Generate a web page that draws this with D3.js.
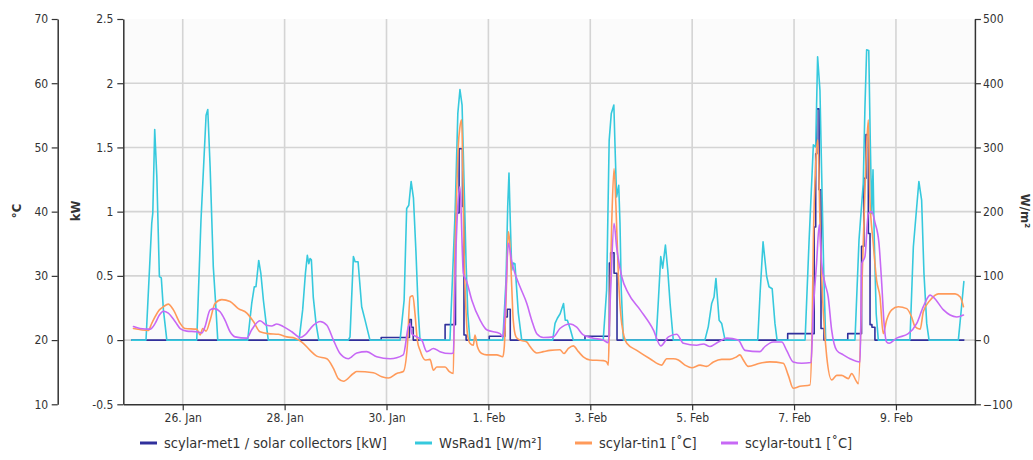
<!DOCTYPE html>
<html>
<head>
<meta charset="utf-8">
<script src="https://cdn.jsdelivr.net/npm/d3@7"></script>
<style>
  html, body { margin: 0; padding: 0; background: #ffffff; }
  svg { display: block; font-family: "DejaVu Sans Condensed", "DejaVu Sans", sans-serif; }
</style>
</head>
<body>
<svg id="chart" width="1033" height="460"></svg>
<script>
// Time axis: every sample is [hours since 25 Jan 00:00, value]
const startDate = new Date(2021, 0, 25);
const timeDomainHours = [-4, 397.2];
const xTickDates = ["2021-01-26", "2021-01-28", "2021-01-30", "2021-02-01",
                    "2021-02-03", "2021-02-05", "2021-02-07", "2021-02-09"];

const kwTicks = [-0.5, 0, 0.5, 1, 1.5, 2, 2.5];
const degTicks = [10, 20, 30, 40, 50, 60, 70];
const radTicks = [-100, 0, 100, 200, 300, 400, 500];

const seriesNames = ["scylar-met1 / solar collectors [kW]", "WsRad1 [W/m²]", "scylar-tin1 [˚C]", "scylar-tout1 [˚C]"];

// solar collector power, kW (stepped)
const collectorKW = [
  [0, 0], [117.5, 0.02], [130.8, 0.16], [131.7, 0.10], [132.6, 0],
  [147.6, 0.12], [152.5, 0.99], [154.2, 1.49], [155.8, 1.04], [156.5, 0.04], [157.5, 0],
  [168.4, 0.03], [175.8, 0.18], [176.9, 0.24], [178.3, 0],
  [213.5, 0.03], [225.0, 0.60], [225.6, 0.68], [227.2, 0.52], [228.6, 0],
  [309.0, 0.05], [321.5, 0.88], [322.2, 1.45], [322.7, 1.80], [323.8, 1.17], [324.7, 0.09], [326.1, 0],
  [337.3, 0.05], [343.8, 0.73], [344.9, 1.26], [345.9, 1.60], [347.0, 0.83], [347.8, 0.12], [348.7, 0.10], [350.1, 0],
  [392.0, 0]
];

// global radiation, W/m²
const radiation = [
  [0, 0],
  [6.7, 0], [9.4, 182], [9.9, 198], [10.8, 328], [11.8, 254], [13.0, 99], [13.9, 97], [14.9, 47], [16.5, 0],
  [30.6, 0], [32.6, 187], [35.0, 350], [35.8, 359], [36.9, 270], [38.4, 114], [39.6, 52], [40.5, 0],
  [54.6, 0], [56.5, 57], [57.7, 83], [58.5, 83], [59.8, 124], [60.8, 104], [62.0, 62], [63.3, 26], [64.3, 0],
  [78.8, 0], [80.5, 47], [81.8, 104], [82.7, 132], [83.4, 119], [84.0, 127], [84.6, 125], [85.5, 67], [86.8, 26], [88.1, 0],
  [102.0, 0], [102.8, 5], [104.4, 130], [105.2, 122], [106.6, 122], [108.3, 52], [109.9, 31], [112.2, 0],
  [126.4, 0], [128.3, 62], [129.5, 205], [130.5, 210], [131.6, 247], [132.7, 221], [133.9, 135], [135.0, 42], [135.8, 0],
  [149.9, 0], [152.3, 197], [153.6, 353], [154.6, 390], [155.6, 366], [156.5, 249], [157.5, 119], [158.3, 41], [159.3, 0],
  [174.8, 0], [176.3, 93], [177.1, 208], [177.7, 260], [178.3, 187], [179.0, 109], [179.7, 120], [180.5, 119], [182.1, 42], [183.7, 0],
  [198.3, 0], [199.4, 26], [200.5, 34], [201.8, 41], [203.4, 57], [204.2, 31], [205.2, 31], [206.5, 18], [208.0, 0],
  [222.1, 0], [223.7, 78], [224.9, 311], [225.9, 353], [227.1, 366], [227.8, 286], [228.4, 223], [229.4, 241], [230.0, 182], [230.6, 78], [231.6, 0],
  [247.0, 0], [248.0, 57], [249.2, 130], [250.1, 112], [251.4, 148], [252.5, 109], [253.6, 57], [255.1, 0],
  [270.0, 0], [271.6, 21], [273.2, 57], [274.3, 67], [275.2, 96], [276.7, 31], [277.9, 26], [279.5, 0],
  [294.9, 0], [296.0, 73], [297.4, 153], [299.1, 99], [300.2, 83], [301.7, 80], [303.0, 26], [304.0, 0],
  [317.2, 0], [319.1, 156], [321.1, 304], [322.2, 301], [323.1, 441], [324.2, 389], [325.0, 260], [326.0, 104], [326.9, 0],
  [340.7, 0], [342.6, 156], [344.6, 244], [345.4, 363], [346.2, 452], [347.2, 451], [347.9, 311], [348.6, 197], [349.2, 265], [349.8, 156], [350.7, 41], [351.7, 0],
  [366.6, 0], [368.2, 145], [369.8, 208], [370.8, 247], [372.1, 218], [373.2, 104], [374.5, 26], [375.6, 0],
  [389.4, 0], [390.6, 41], [392.0, 91]
];

// collector inlet temperature, °C
const tempIn = [
  [0.8, 21.8], [7.8, 21.5], [9.4, 22.6], [13.0, 24.7], [14.9, 25.2], [17.2, 25.6], [19.6, 24.7], [22.8, 22.6],
  [25.1, 21.8], [30.6, 21.7], [32.2, 20.8], [33.4, 21.8], [35.0, 21.4], [36.9, 23.1], [39.2, 25.7], [42.4, 26.3],
  [46.3, 26.0], [50.2, 24.9], [54.2, 24.2], [57.3, 22.9], [60.4, 21.3], [64.3, 21.0], [69.1, 20.9], [73.0, 20.5],
  [76.9, 20.3], [80.1, 19.7], [84.0, 18.4], [87.1, 17.5], [91.9, 17.1], [95.0, 15.6], [97.3, 14.0], [99.7, 13.6],
  [104.4, 14.8], [106.0, 15.1], [113.8, 14.9], [117.8, 14.3], [120.9, 14.1], [124.8, 14.8], [127.9, 15.1],
  [129.8, 19.0], [131.1, 26.7], [132.4, 26.9], [133.4, 24.2], [134.5, 20.0], [135.8, 18.4], [138.2, 16.9],
  [140.5, 17.0], [142.1, 15.3], [143.7, 15.8], [147.6, 15.8], [149.6, 15.1], [151.5, 14.8], [152.0, 29.3],
  [152.8, 39.7], [153.8, 50.1], [154.6, 53.2], [155.4, 54.3], [155.9, 47.5], [156.5, 34.5], [157.5, 24.2],
  [158.1, 21.0], [159.3, 19.5], [160.9, 19.2], [161.7, 20.8], [162.8, 19.0], [164.9, 17.9], [167.2, 17.7],
  [171.9, 17.7], [174.8, 17.4], [175.5, 19.0], [176.6, 29.3], [177.4, 36.9], [178.2, 34.5], [179.0, 28.3],
  [179.7, 23.1], [181.0, 20.5], [182.9, 20.0], [186.1, 19.7], [187.6, 19.0], [190.8, 18.0], [193.9, 18.2],
  [197.0, 18.4], [201.7, 18.5], [203.6, 17.9], [205.7, 18.7], [208.0, 19.1], [210.4, 18.2], [212.7, 17.4],
  [215.9, 16.9], [222.1, 16.8], [223.7, 16.6], [224.5, 16.1], [225.0, 22.6], [226.1, 38.2], [227.2, 46.7],
  [228.1, 40.8], [229.2, 30.4], [230.8, 22.6], [233.2, 19.5], [237.9, 18.4], [244.1, 17.1], [249.6, 16.1],
  [252.0, 17.1], [255.1, 17.1], [257.5, 16.9], [260.6, 16.1], [263.8, 15.7], [267.7, 16.1], [270.8, 15.9],
  [274.0, 16.6], [277.9, 17.0], [281.8, 17.0], [285.0, 17.4], [286.5, 17.7], [288.1, 16.9], [290.4, 15.9],
  [295.9, 16.4], [300.6, 16.6], [306.9, 16.4], [309.3, 14.5], [311.6, 12.5], [314.8, 12.8], [319.5, 13.0],
  [320.5, 22.0], [321.1, 35.6], [322.2, 47.5], [323.2, 51.2], [324.3, 37.1], [325.8, 24.2], [327.4, 17.4],
  [329.7, 13.8], [332.1, 14.5], [334.4, 14.5], [337.6, 14.0], [339.1, 14.8], [341.5, 13.5], [342.3, 13.2],
  [344.3, 31.9], [345.9, 48.0], [347.0, 54.3], [347.7, 42.3], [349.3, 35.1], [350.9, 29.3], [352.5, 26.7],
  [354.0, 21.0], [355.6, 23.1], [358.0, 24.7], [361.1, 25.2], [365.1, 24.9], [367.4, 23.6], [369.0, 22.1],
  [371.4, 21.7], [372.9, 24.4], [376.1, 26.2], [380.0, 27.2], [387.9, 27.2], [390.3, 26.7], [391.8, 25.2]
];

// collector outlet temperature, °C
const tempOut = [
  [0.8, 22.1], [3.9, 21.8], [8.6, 21.7], [11.0, 22.6], [13.0, 23.9], [14.9, 24.5], [17.2, 24.2], [20.4, 22.9],
  [22.8, 21.8], [25.9, 21.4], [30.6, 21.3], [33.0, 21.1], [34.5, 22.1], [36.9, 24.7], [38.8, 24.9], [41.6, 24.4],
  [43.9, 23.1], [46.3, 21.3], [48.7, 20.5], [54.2, 20.3], [56.5, 21.6], [60.4, 23.0], [63.6, 22.3], [65.9, 22.2],
  [68.3, 22.5], [71.4, 22.1], [75.4, 21.3], [79.3, 20.4], [81.6, 20.8], [85.5, 22.3], [88.7, 22.9], [91.9, 22.3],
  [95.0, 20.0], [98.1, 17.9], [99.7, 17.4], [102.0, 17.1], [106.0, 18.0], [110.7, 18.2], [115.4, 17.4],
  [121.7, 17.1], [127.9, 17.7], [130.3, 22.1], [131.1, 22.6], [131.9, 21.0], [134.2, 20.5], [136.6, 20.0],
  [139.0, 18.2], [142.1, 18.7], [145.2, 18.2], [149.9, 17.9], [151.5, 18.0], [152.3, 29.3], [153.4, 39.7],
  [154.6, 43.9], [156.2, 30.4], [157.8, 29.1], [160.2, 26.2], [164.1, 23.1], [167.2, 21.6], [173.5, 21.0],
  [174.8, 20.5], [175.8, 24.2], [177.4, 35.1], [179.0, 32.2], [180.5, 30.4], [182.9, 28.3], [186.1, 25.7],
  [188.4, 23.1], [190.8, 21.0], [193.9, 20.4], [198.6, 20.5], [201.7, 21.8], [206.5, 22.5], [209.6, 22.0],
  [212.7, 20.8], [217.4, 20.3], [222.1, 20.0], [224.5, 19.6], [225.6, 27.8], [227.2, 38.2], [228.4, 34.5],
  [230.8, 29.9], [233.9, 27.3], [239.5, 24.7], [245.7, 21.6], [249.2, 19.1], [252.8, 20.5], [256.7, 20.9],
  [259.9, 19.5], [266.1, 19.2], [269.3, 19.4], [272.4, 19.0], [276.3, 19.7], [280.3, 20.3], [285.7, 20.0],
  [288.9, 18.4], [295.9, 18.2], [298.3, 19.0], [302.2, 19.7], [306.2, 19.7], [308.5, 18.4], [311.6, 16.6],
  [315.6, 16.4], [320.0, 16.5], [321.0, 24.2], [322.6, 31.9], [323.9, 38.0], [325.0, 31.9], [326.6, 28.8],
  [328.1, 26.7], [329.7, 21.6], [332.1, 18.4], [335.2, 17.7], [338.4, 17.1], [343.1, 16.6], [343.9, 31.9],
  [345.4, 33.0], [347.0, 39.7], [348.6, 40.0], [350.2, 38.2], [352.0, 35.1], [353.3, 28.8], [354.4, 22.6],
  [355.6, 19.7], [356.8, 19.5], [360.3, 20.3], [365.8, 21.0], [369.8, 22.6], [372.9, 25.2], [376.1, 27.0],
  [377.6, 26.7], [382.4, 24.7], [385.5, 23.9], [388.7, 23.6], [391.8, 23.9]
];

// ---- drawing ----
const svg = d3.select("#chart");
const plot = { left: 123.3, right: 974.9, top: 19, bottom: 404.3 };
const textColor = "#333333";
const axisColor = "#333333";
const gridColor = "#d4d4d4";
const colors = ["#30309c", "#36c9dd", "#ff9a5a", "#c768f5"];

const hourToDate = h => new Date(startDate.getTime() + h * 3600e3);

const x = d3.scaleTime()
  .domain(timeDomainHours.map(hourToDate))
  .range([plot.left, plot.right]);
const yKW = d3.scaleLinear().domain([-0.5, 2.5]).range([plot.bottom, plot.top]);
const yDeg = d3.scaleLinear().domain([10, 70]).range([plot.bottom, plot.top]);
const yRad = d3.scaleLinear().domain([-100, 500]).range([plot.bottom, plot.top]);

const tickDates = xTickDates.map(s => d3.timeParse("%Y-%m-%d")(s));

// plot background
svg.append("rect")
  .attr("x", plot.left).attr("y", plot.top)
  .attr("width", plot.right - plot.left).attr("height", plot.bottom - plot.top)
  .attr("fill", "#fbfbfb");

// grid
const grid = svg.append("g").attr("stroke", gridColor).attr("stroke-width", 1.6);
grid.selectAll("line.v").data(tickDates).join("line")
  .attr("x1", d => x(d)).attr("x2", d => x(d))
  .attr("y1", plot.top).attr("y2", plot.bottom);
grid.selectAll("line.h").data(kwTicks.filter(t => t > -0.5 && t < 2.5)).join("line")
  .attr("x1", plot.left).attr("x2", plot.right)
  .attr("y1", d => yKW(d)).attr("y2", d => yKW(d));

// series
const defs = svg.append("defs");
defs.append("clipPath").attr("id", "plotClip").append("rect")
  .attr("x", plot.left).attr("y", plot.top)
  .attr("width", plot.right - plot.left).attr("height", plot.bottom - plot.top);

const seriesLayer = svg.append("g").attr("clip-path", "url(#plotClip)")
  .attr("fill", "none").attr("stroke-linejoin", "round").attr("stroke-linecap", "round");

function drawSeries(data, yScale, color, curve) {
  seriesLayer.append("path")
    .datum(data)
    .attr("stroke", color)
    .attr("stroke-width", 1.6)
    .attr("d", d3.line()
      .x(d => x(hourToDate(d[0])))
      .y(d => yScale(d[1]))
      .curve(curve)(data));
}
drawSeries(collectorKW, yKW, colors[0], d3.curveStepAfter);
drawSeries(radiation, yRad, colors[1], d3.curveLinear);
drawSeries(tempIn, yDeg, colors[2], d3.curveMonotoneX);
drawSeries(tempOut, yDeg, colors[3], d3.curveMonotoneX);

// axes
function styleAxis(g) {
  g.select(".domain").attr("stroke", axisColor).attr("stroke-width", 1.5);
  g.selectAll(".tick line").attr("stroke", axisColor).attr("stroke-width", 1.2);
  g.selectAll(".tick text").attr("fill", textColor)
    .style("font-family", "'DejaVu Sans Condensed', 'DejaVu Sans', sans-serif")
    .style("font-size", "12px");
}

svg.append("g")
  .attr("transform", `translate(57.7,0)`)
  .call(d3.axisLeft(yDeg).tickValues(degTicks).tickSize(6).tickSizeOuter(0).tickPadding(3.5).tickFormat(d3.format("d")))
  .call(styleAxis);

svg.append("g")
  .attr("transform", `translate(${plot.left},0)`)
  .call(d3.axisLeft(yKW).tickValues(kwTicks).tickSize(6).tickSizeOuter(0).tickPadding(4).tickFormat(d => String(d)))
  .call(styleAxis);

svg.append("g")
  .attr("transform", `translate(${plot.right},0)`)
  .call(d3.axisRight(yRad).tickValues(radTicks).tickSize(6).tickSizeOuter(0).tickPadding(2).tickFormat(d3.format("d")))
  .call(styleAxis);

svg.append("g")
  .attr("transform", `translate(0,${plot.bottom})`)
  .call(d3.axisBottom(x).tickValues(tickDates).tickSize(6).tickSizeOuter(0).tickPadding(3).tickFormat(d3.timeFormat("%-d. %b")))
  .call(styleAxis);

// axis titles
const titleStyle = sel => sel.attr("fill", textColor).attr("text-anchor", "middle")
  .style("font-size", "13px").style("font-weight", "bold");
svg.append("text").attr("transform", "translate(21,211) rotate(-90)").text("°C").call(titleStyle);
svg.append("text").attr("transform", "translate(80,211) rotate(-90)").text("kW").call(titleStyle);
svg.append("text").attr("transform", "translate(1021,211) rotate(90)").text("W/m²").call(titleStyle);

// legend
const legendX = [140, 415, 575, 721];
const legend = svg.append("g").attr("transform", "translate(0,443)");
const items = legend.selectAll("g").data(seriesNames).join("g")
  .attr("transform", (d, i) => `translate(${legendX[i]},0)`);
items.append("line").attr("x1", 0).attr("x2", 17).attr("y1", 0).attr("y2", 0)
  .attr("stroke", (d, i) => colors[i]).attr("stroke-width", 3);
items.append("text").attr("x", 24).attr("y", 0).attr("dy", "0.35em")
  .attr("fill", textColor).style("font-size", "14.5px").text(d => d);
</script>
</body>
</html>
